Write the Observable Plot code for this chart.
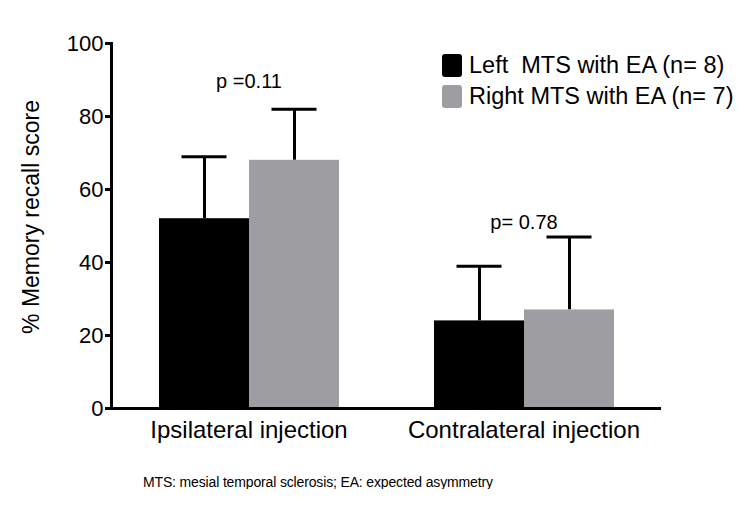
<!DOCTYPE html>
<html>
<head>
<meta charset="utf-8">
<script src="https://cdn.jsdelivr.net/npm/d3@7"></script>
<script src="https://cdn.jsdelivr.net/npm/@observablehq/plot@0.6"></script>
<style>
  body { margin: 0; background: #fff; font-family: Arial, "Liberation Sans", Helvetica, sans-serif; }
  #wrap { position: relative; width: 751px; }
  #wrap svg { display: block; }
  .legend-item { position: absolute; left: 442px; height: 23px; white-space: pre; }
  .legend-swatch { position: absolute; left: 0; top: 0; width: 20px; height: 23px; border-radius: 3px; }
  .legend-text { position: absolute; left: 27px; top: 0; font-size: 23.5px; line-height: 23px; color: #000; }
  #caption { margin: 15px 0 0 143px; font-size: 14px; line-height: 1; letter-spacing: -0.15px; color: #000; }
</style>
</head>
<body>
<div id="wrap"></div>
<div id="caption"></div>
<script>
const groups = ["Ipsilateral injection", "Contralateral injection"];
const series = ["Left  MTS with EA (n= 8)", "Right MTS with EA (n= 7)"];
const colors = ["#000000", "#9e9ea2"];
const leftMeans = [52, 24];
const leftSD = [17, 15];
const rightMeans = [68, 27];
const rightSD = [14, 20];
const pLabels = ["p =0.11", "p= 0.78"];
const pLabelY = [87.8, 49.3];
const yTicks = [0, 20, 40, 60, 80, 100];
const yLabel = "% Memory recall score";
const captionText = "MTS: mesial temporal sclerosis; EA: expected asymmetry";

const rows = [];
groups.forEach((g, i) => {
  rows.push({group: g, series: series[0], mean: leftMeans[i], sd: leftSD[i]});
  rows.push({group: g, series: series[1], mean: rightMeans[i], sd: rightSD[i]});
});
const annots = groups.map((g, i) => ({group: g, label: pLabels[i], y: pLabelY[i]}));

const plot = Plot.plot({
  width: 751,
  height: 460,
  marginLeft: 111,
  marginRight: 90,
  marginTop: 43,
  marginBottom: 52,
  style: {fontFamily: "Arial, 'Liberation Sans', Helvetica, sans-serif", color: "#000", background: "white"},
  fx: {domain: groups, padding: 0, label: null},
  x: {domain: series, paddingInner: 0, paddingOuter: 0.511, axis: null},
  y: {domain: [0, 100]},
  color: {domain: series, range: colors},
  marks: [
    Plot.axisFx({anchor: "bottom", tickSize: 0, tickPadding: 12, fontSize: 24, label: null}),
    Plot.axisY(yTicks, {anchor: "left", tickSize: 6, tickPadding: 2, fontSize: 22, strokeWidth: 3,
      label: yLabel, labelAnchor: "center", labelOffset: 89, labelArrow: "none"}),
    Plot.ruleX(rows, {fx: "group", x: "series", y1: "mean", y2: d => d.mean + d.sd, strokeWidth: 3}),
    Plot.tickY(rows, {fx: "group", x: "series", y: d => d.mean + d.sd, strokeWidth: 3, insetLeft: 22.5, insetRight: 22.5}),
    Plot.barY(rows, {fx: "group", x: "series", y: "mean", fill: "series"}),
    Plot.ruleY([0], {strokeWidth: 3}),
    Plot.frame({anchor: "left", strokeWidth: 3, facetAnchor: "left"}),
    Plot.text(annots, {fx: "group", y: "y", text: "label", fontSize: 20, lineAnchor: "bottom"})
  ]
});

document.getElementById("wrap").appendChild(plot);
d3.select(plot).selectAll('g[aria-label="y-axis label"]').attr("font-size", 23);
d3.select(plot).selectAll('g[aria-label="y-axis label"] text').attr("dx", 9);

const wrap = d3.select("#wrap");
series.forEach((s, i) => {
  const item = wrap.append("div").attr("class", "legend-item").style("top", (54 + 31 * i) + "px");
  item.append("div").attr("class", "legend-swatch").style("background", colors[i]);
  item.append("div").attr("class", "legend-text").text(s);
});
d3.select("#caption").text(captionText);
</script>
</body>
</html>
